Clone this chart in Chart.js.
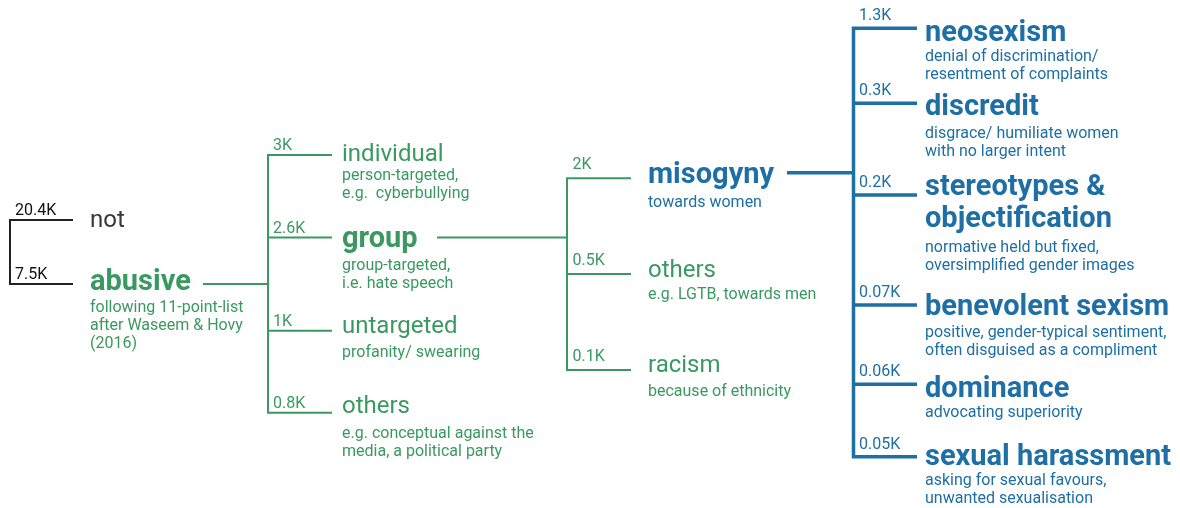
<!DOCTYPE html>
<html>
<head>
<meta charset="utf-8">
<script src="https://cdn.jsdelivr.net/npm/chart.js@4.4.1/dist/chart.umd.min.js"></script>
<style>
  html, body { margin: 0; padding: 0; background: #ffffff; }
  #wrap { width: 1180px; height: 508px; }
</style>
</head>
<body>
<div id="wrap"><canvas id="c" width="1180" height="508"></canvas></div>
<script>
// ---------------- DATA ----------------
const nodeNames = [
  'not', 'abusive',
  'individual', 'group', 'untargeted', 'others',
  'misogyny', 'others', 'racism',
  'neosexism', 'discredit', 'stereotypes &\nobjectification', 'benevolent sexism', 'dominance', 'sexual harassment'
];
const nodeCountsK = [20.4, 7.5, 3, 2.6, 1, 0.8, 2, 0.5, 0.1, 1.3, 0.3, 0.2, 0.07, 0.06, 0.05];
const nodeNotes = [
  [],
  ['following 11-point-list', 'after Waseem & Hovy', '(2016)'],
  ['person-targeted,', 'e.g.  cyberbullying'],
  ['group-targeted,', 'i.e. hate speech'],
  ['profanity/ swearing'],
  ['e.g. conceptual against the', 'media, a political party'],
  ['towards women'],
  ['e.g. LGTB, towards men'],
  ['because of ethnicity'],
  ['denial of discrimination/', 'resentment of complaints'],
  ['disgrace/ humiliate women', 'with no larger intent'],
  ['normative held but fixed,', 'oversimplified gender images'],
  ['positive, gender-typical sentiment,', 'often disguised as a compliment'],
  ['advocating superiority'],
  ['asking for sexual favours,', 'unwanted sexualisation']
];
// parent index (-1 = root of the tree)
const nodeParent = [-1, -1, 1, 1, 1, 1, 3, 3, 3, 6, 6, 6, 6, 6, 6];
const nodeLevel  = [0, 0, 1, 1, 1, 1, 2, 2, 2, 3, 3, 3, 3, 3, 3];
const nodeEmphasis = [false, true, false, true, false, false, true, false, false, true, true, true, true, true, true];

// ---------------- LAYOUT / STYLE ----------------
const colVertical  = [10, 268, 567, 853.5];
const colBranchEnd = [73, 332, 631, 917];
const colLabel     = [90, 342, 648, 925];
const colCount     = [15, 273, 572.5, 859];
const countLift    = [5, 5, 9, 8];
const nodeBranchY  = [220, 284, 155, 237.5, 330.7, 412.7, 178.3, 274, 370, 28.3, 103.3, 195, 305, 384.3, 456.7];
const nodeLabelY   = [227, 290, 160.7, 247, 333.3, 413.3, 183.3, 276.7, 371.7, 40.7, 115, 195, 315, 396.7, 465];
const nodeNoteY    = [0, 311.7, 179.5, 270, 356.7, 437.7, 206.7, 299, 396, 60.5, 138.3, 251.7, 336.7, 416.7, 485];
const noteLineH = 18;
const labelLineH = 31.7;
const connectorStart = { 1: [203, 284], 3: [437, 237.5], 6: [787, 172.7] };

const GREEN = '#3a9960';
const BLUE  = '#1d6fa5';
const BLACK = '#222222';
const bracketColor = { '-1': BLACK, '1': GREEN, '3': GREEN, '6': BLUE };
const bracketWidth = { '-1': 2, '1': 2, '3': 2, '6': 3.5 };
const nodeColor = ['#383838', GREEN, GREEN, GREEN, GREEN, GREEN, BLUE, GREEN, GREEN, BLUE, BLUE, BLUE, BLUE, BLUE, BLUE];
const FONT = 'Roboto, "Noto Sans", sans-serif';

// ---------------- BUILD DATASETS ----------------
const datasets = [];
function seg(points, color, width) {
  datasets.push({
    type: 'line', data: points, showLine: true, fill: false,
    borderColor: color, borderWidth: width, pointRadius: 0, pointHoverRadius: 0,
    tension: 0, borderJoinStyle: 'miter', borderCapStyle: 'butt'
  });
}
Object.keys(bracketColor).forEach(pk => {
  const p = Number(pk);
  const kids = nodeParent.map((q, i) => q === p ? i : -1).filter(i => i >= 0);
  const lvl = nodeLevel[kids[0]];
  const cx = colVertical[lvl], ex = colBranchEnd[lvl];
  const first = kids[0], last = kids[kids.length - 1];
  const col = bracketColor[pk], w = bracketWidth[pk];
  seg([{x: ex, y: nodeBranchY[first]}, {x: cx, y: nodeBranchY[first]},
       {x: cx, y: nodeBranchY[last]}, {x: ex, y: nodeBranchY[last]}], col, w);
  kids.slice(1, -1).forEach(k => seg([{x: cx, y: nodeBranchY[k]}, {x: ex, y: nodeBranchY[k]}], col, w));
  if (p >= 0) {
    const s = connectorStart[p];
    seg([{x: s[0], y: s[1]}, {x: cx, y: s[1]}], col, w);
  }
});

// ---------------- TEXT PLUGIN ----------------
const treeText = {
  id: 'treeText',
  afterDatasetsDraw(chart) {
    const ctx = chart.ctx, xs = chart.scales.x, ys = chart.scales.y;
    ctx.save();
    ctx.textAlign = 'left';
    ctx.textBaseline = 'alphabetic';
    nodeNames.forEach((name, i) => {
      const lvl = nodeLevel[i];
      const p = String(nodeParent[i]);
      // count
      ctx.fillStyle = nodeParent[i] === -1 ? '#111111' : bracketColor[p];
      ctx.font = '400 16px ' + FONT;
      ctx.fillText(nodeCountsK[i] + 'K', xs.getPixelForValue(colCount[lvl]), ys.getPixelForValue(nodeBranchY[i] - countLift[lvl]));
      // label
      ctx.fillStyle = nodeColor[i];
      ctx.font = nodeEmphasis[i] ? '700 29px ' + FONT : '400 24px ' + FONT;
      name.split('\n').forEach((ln, j) => {
        ctx.fillText(ln, xs.getPixelForValue(colLabel[lvl]), ys.getPixelForValue(nodeLabelY[i] + j * labelLineH));
      });
      // notes
      ctx.font = '400 16px ' + FONT;
      nodeNotes[i].forEach((ln, j) => {
        ctx.fillText(ln, xs.getPixelForValue(colLabel[lvl]), ys.getPixelForValue(nodeNoteY[i] + j * noteLineH));
      });
    });
    ctx.restore();
  }
};

function build() {
  new Chart(document.getElementById('c'), {
    type: 'scatter',
    data: { datasets },
    options: {
      responsive: false, animation: false, devicePixelRatio: 1,
      layout: { padding: 0 },
      plugins: { legend: { display: false }, tooltip: { enabled: false }, title: { display: false } },
      events: [],
      scales: {
        x: { type: 'linear', min: 0, max: 1180, display: false },
        y: { type: 'linear', min: 0, max: 508, reverse: true, display: false }
      }
    },
    plugins: [treeText]
  });
}
if (document.fonts && document.fonts.load) {
  Promise.all([
    document.fonts.load('400 24px Roboto'), document.fonts.load('700 29px Roboto'), document.fonts.load('400 16px Roboto')
  ]).then(build, build);
} else { build(); }
</script>
</body>
</html>
